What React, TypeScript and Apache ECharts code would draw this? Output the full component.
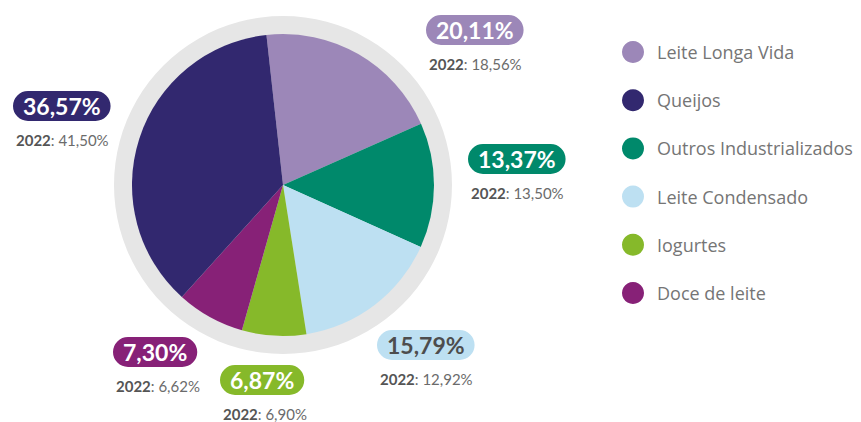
import React, { useEffect, useRef } from "react";
import * as echarts from "echarts";

const categories = ["Leite Longa Vida", "Outros Industrializados", "Leite Condensado", "Iogurtes", "Doce de leite", "Queijos"];
const values2023 = [20.11, 13.37, 15.79, 6.87, 7.3, 36.57];
const values2022 = [18.56, 13.5, 12.92, 6.9, 6.62, 41.5];
const colors = ["#9c87b8", "#00896b", "#bde0f2", "#86b92a", "#872177", "#32286f"];
const badgeTextColors = ["#ffffff", "#ffffff", "#4d4d4d", "#ffffff", "#ffffff", "#ffffff"];
const legendOrder = ["Leite Longa Vida", "Queijos", "Outros Industrializados", "Leite Condensado", "Iogurtes", "Doce de leite"];

// label block top-left anchor positions (layout only)
const labelAnchors: Record<string, [number, number]> = {
  "Leite Longa Vida": [426, 15],
  "Outros Industrializados": [468, 144],
  "Leite Condensado": [377, 330],
  "Iogurtes": [220, 365],
  "Doce de leite": [113, 337],
  "Queijos": [13, 91],
};

const fmt = (v: number) => v.toFixed(2).replace(".", ",") + "%";

export default function App() {
  const ref = useRef<HTMLDivElement>(null);
  useEffect(() => {
    if (!ref.current) return;
    const chart = echarts.init(ref.current, null, { renderer: "svg" });
    const font = "Lato, 'Open Sans', sans-serif";
    const data = categories.map((name, i) => ({
      name,
      value: values2023[i],
      itemStyle: { color: colors[i] },
      label: {
        formatter: `{p|${fmt(values2023[i])}}\n{y|2022}{v|: ${fmt(values2022[i])}}`,
        rich: {
          p: {
            backgroundColor: colors[i],
            color: badgeTextColors[i],
            fontFamily: font,
            fontWeight: "bold",
            fontSize: 23,
            lineHeight: 30,
            height: 30,
            padding: [0, 10, 0, 10],
            borderRadius: 15,
          },
          y: {
            color: "#555555",
            fontFamily: font,
            fontWeight: "bold",
            fontSize: 15,
            lineHeight: 37,
            padding: [0, 0, 0, 3],
          },
          v: {
            color: "#6b6b6b",
            fontFamily: font,
            fontSize: 15,
            lineHeight: 37,
          },
        },
      },
    }));
    chart.setOption({
      animation: false,
      legend: {
        data: legendOrder,
        orient: "vertical",
        left: 622,
        top: 41,
        padding: 0,
        itemWidth: 22,
        itemHeight: 22,
        itemGap: 26.2,
        icon: "circle",
        selectedMode: false,
        textStyle: {
          fontFamily: "'Open Sans', sans-serif",
          fontSize: 18,
          color: "#757575",
          padding: [0, 0, 0, 8],
        },
      },
      series: [
        {
          type: "pie",
          name: "ring",
          center: [283, 185],
          radius: [0, 169],
          silent: true,
          z: 1,
          label: { show: false },
          labelLine: { show: false },
          emphasis: { disabled: true },
          data: [{ value: 1, name: "", itemStyle: { color: "#e6e6e6" } }],
        },
        {
          type: "pie",
          name: "share",
          center: [283, 185],
          radius: [0, 151],
          startAngle: 96.3,
          clockwise: true,
          z: 2,
          avoidLabelOverlap: false,
          emphasis: { disabled: true },
          itemStyle: { borderWidth: 0 },
          label: { show: true, position: "outside" },
          labelLine: { show: false },
          labelLayout: (params: any) => {
            const name = categories[params.dataIndex];
            const a = labelAnchors[name];
            return { x: a[0], y: a[1], align: "left", verticalAlign: "top", hideOverlap: false };
          },
          data,
        },
      ],
    });
    return () => chart.dispose();
  }, []);
  return (
    <div
      ref={ref}
      style={{ position: "fixed", left: 0, top: 0, width: 861, height: 422, background: "#ffffff" }}
    />
  );
}
